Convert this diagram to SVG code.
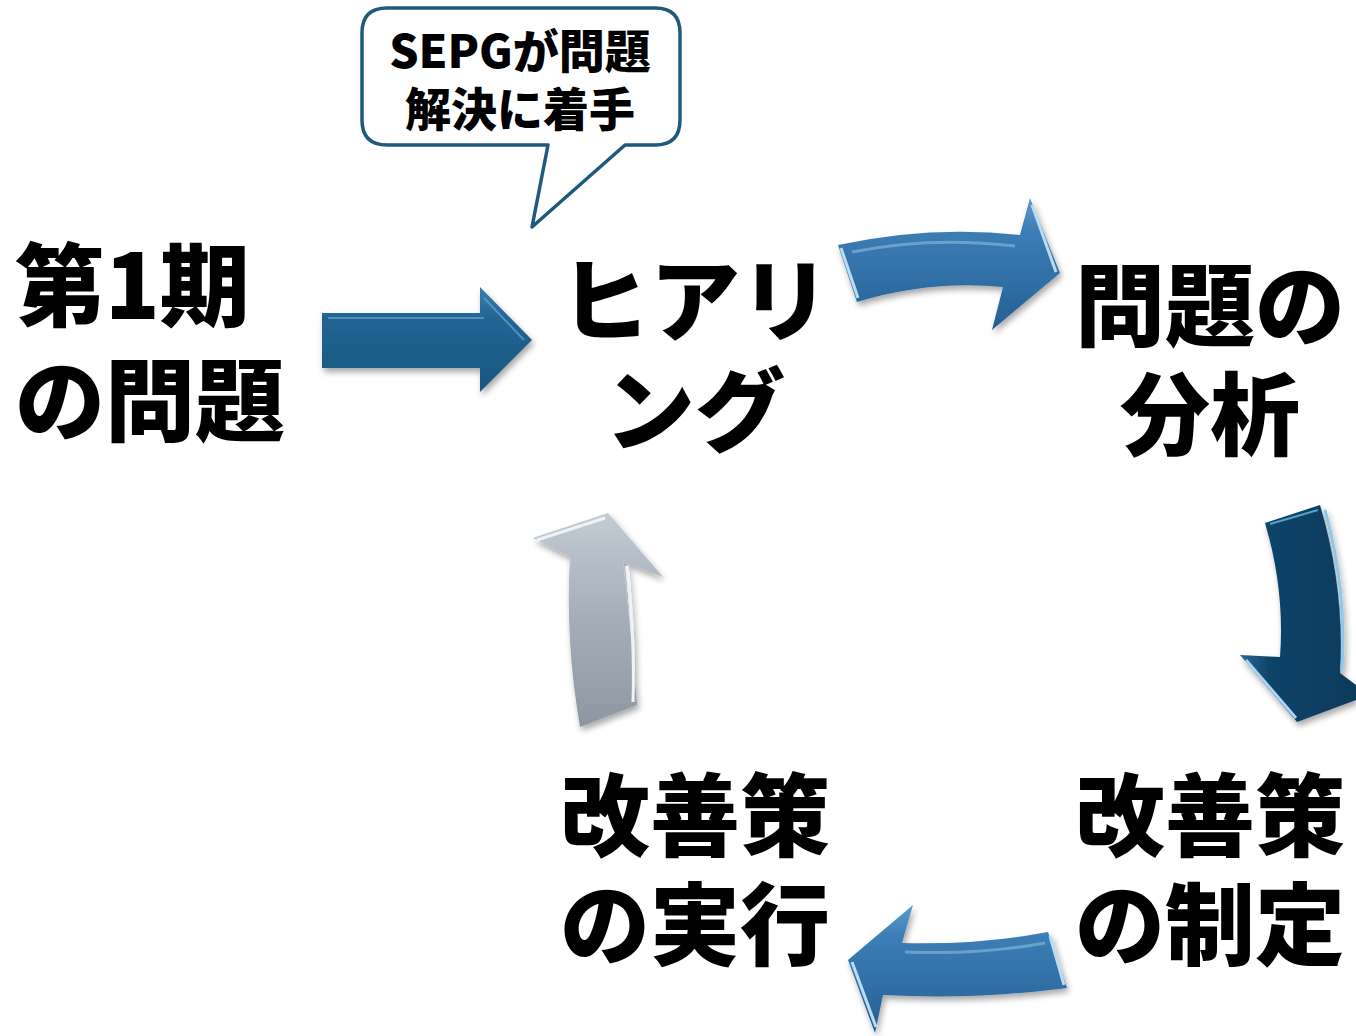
<svg xmlns="http://www.w3.org/2000/svg" width="1356" height="1036" viewBox="0 0 1356 1036">
<style>
.big{font-family:"Noto Sans CJK JP","Noto Sans",sans-serif;font-weight:900;font-size:90px;fill:#000}
.call{font-family:"Noto Sans CJK JP","Noto Sans",sans-serif;font-weight:900;font-size:46px;fill:#000}
.bev{fill:none;stroke-linejoin:round}
</style>
<defs>
<linearGradient id="gBlue" x1="0" y1="0" x2="0" y2="1">
<stop offset="0" stop-color="#5e9acb"/><stop offset="0.25" stop-color="#3c7db5"/><stop offset="0.7" stop-color="#2d6ca2"/><stop offset="1" stop-color="#275f8f"/>
</linearGradient>
<linearGradient id="gStraight" x1="0" y1="0" x2="0" y2="1">
<stop offset="0" stop-color="#3d7fb0"/><stop offset="0.3" stop-color="#216494"/><stop offset="1" stop-color="#1b5680"/>
</linearGradient>
<linearGradient id="gNavy" x1="0" y1="0" x2="1" y2="0">
<stop offset="0" stop-color="#2a6a96"/><stop offset="0.25" stop-color="#0f4469"/><stop offset="1" stop-color="#0a3a5c"/>
</linearGradient>
<linearGradient id="gGray" x1="0" y1="0" x2="0" y2="1">
<stop offset="0" stop-color="#c3cbd4"/><stop offset="0.5" stop-color="#a4aeb9"/><stop offset="1" stop-color="#8d97a2"/>
</linearGradient>
<filter id="sh" x="-20%" y="-20%" width="140%" height="140%">
<feGaussianBlur in="SourceAlpha" stdDeviation="3"/><feOffset dx="2" dy="4"/>
<feComponentTransfer><feFuncA type="linear" slope="0.35"/></feComponentTransfer>
<feMerge><feMergeNode/><feMergeNode in="SourceGraphic"/></feMerge>
</filter>
</defs>

<g id="connectors">
  <g id="arrow-start-hearing" filter="url(#sh)">
    <path d="M322,313 L480,313 L480,287 L532,340 L480,392 L480,368 L322,368 Z" fill="url(#gStraight)"/>
    <path d="M328,318 L484,318 M484,298 L524,340" class="bev" stroke="#6aa3cc" stroke-width="2" opacity="0.7"/>
  </g>
  <g id="arrow-hearing-analysis" filter="url(#sh)">
    <path d="M838,245 Q930,225 1020,235 L1030,198 L1060,273 L992,330 L1003,287 Q930,280 857,302 Z" fill="url(#gBlue)"/>
    <path d="M841,248 L858,298 M1032,205 L1056,272" class="bev" stroke="#b9dcf3" stroke-width="3"/>
    <path d="M852,252 Q930,236 1015,246" class="bev" stroke="#8bbce0" stroke-width="3" opacity="0.6"/>
  </g>
  <g id="arrow-analysis-plan" filter="url(#sh)">
    <path d="M1265,523 L1320,505 Q1345,590 1340,673 L1356,685 L1356,700 L1297,722 L1240,655 L1280,657 Q1285,590 1265,523 Z" fill="url(#gNavy)"/>
    <path d="M1325,510 Q1347,590 1342,670" class="bev" stroke="#8fc6ea" stroke-width="3"/>
    <path d="M1246,660 L1296,718" class="bev" stroke="#a9d3ef" stroke-width="3"/>
    <path d="M1270,524 L1318,510" class="bev" stroke="#5d9cc6" stroke-width="2"/>
  </g>
  <g id="arrow-plan-execute" filter="url(#sh)">
    <path d="M1048,932 Q980,945 902,943 L913,905 L848,960 L875,1033 L883,995 Q975,1000 1067,988 Z" fill="url(#gBlue)"/>
    <path d="M852,962 L876,1027 M1050,936 L1064,985" class="bev" stroke="#b9dcf3" stroke-width="3"/>
    <path d="M905,952 Q980,955 1045,943" class="bev" stroke="#8bbce0" stroke-width="3" opacity="0.6"/>
  </g>
  <g id="arrow-execute-hearing" filter="url(#sh)">
    <path d="M580,727 Q565,640 570,557 L533,538 L608,513 L663,577 L623,562 Q632,640 637,705 Z" fill="url(#gGray)"/>
    <path d="M537,540 L605,518 M627,566 Q635,640 633,702" class="bev" stroke="#eef3f8" stroke-width="3"/>
  </g>
</g>

<g id="callout">
  <path d="M387,8 L655,8 Q680,8 680,33 L680,120 Q680,145 655,145 L625,145 L532,227 L548,145 L387,145 Q362,145 362,120 L362,33 Q362,8 387,8 Z" fill="#fff" stroke="#1f5a7e" stroke-width="3.5" stroke-linejoin="round"/>
  <text class="call" text-anchor="middle"><tspan x="520" y="68">SEPGが問題</tspan><tspan x="520" y="126">解決に着手</tspan></text>
</g>

<g id="node-start">
  <text class="big"><tspan x="15" y="319">第1期</tspan><tspan x="15" y="434">の問題</tspan></text>
</g>
<g id="node-hearing">
  <text class="big" text-anchor="middle"><tspan x="695" y="334">ヒアリ</tspan><tspan x="695" y="444">ング</tspan></text>
</g>
<g id="node-analysis">
  <text class="big" text-anchor="middle"><tspan x="1210" y="339">問題の</tspan><tspan x="1210" y="448">分析</tspan></text>
</g>
<g id="node-plan">
  <text class="big" text-anchor="middle"><tspan x="1210" y="849">改善策</tspan><tspan x="1210" y="958">の制定</tspan></text>
</g>
<g id="node-execute">
  <text class="big" text-anchor="middle"><tspan x="695" y="849">改善策</tspan><tspan x="695" y="958">の実行</tspan></text>
</g>
</svg>
